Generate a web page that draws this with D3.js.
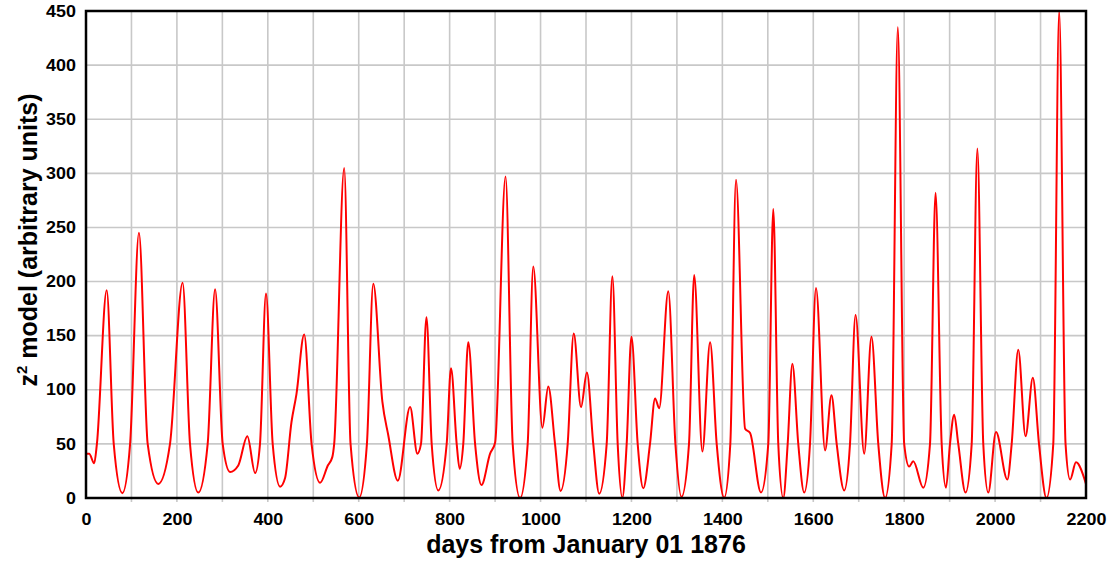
<!DOCTYPE html>
<html>
<head>
<meta charset="utf-8">
<script src="https://cdn.jsdelivr.net/npm/d3@7"></script>
<style>
  html, body { margin: 0; padding: 0; background: #fff; }
  svg { display: block; font-family: "Liberation Sans", Arial, sans-serif; }
</style>
</head>
<body>
<svg id="chart" width="1115" height="563"></svg>
<script>
// Model series: day offsets and z^2 values (turning points, shoulders and flank crossings)
const days = [
  0, 7, 18, 24, 45.5, 61, 80, 97, 116.5, 135.7, 159, 184.8, 212.5, 228.8, 247, 267.7,
  284, 300.7, 317, 335, 355, 372, 382.8, 396, 410.7, 427, 438, 452, 463, 480, 496.5,
  515, 532, 542, 546, 568, 582, 601, 618, 632, 652, 665, 686, 713, 729, 737, 749,
  760.5, 775, 793.5, 803, 815.5, 822, 830, 841, 856, 870, 889, 900, 923, 938.7, 955,
  971.7, 984, 1004, 1017, 1031.8, 1044, 1059.7, 1073, 1089, 1102, 1116, 1129, 1145.5,
  1158, 1169.7, 1180, 1189.5, 1200, 1213.7, 1226, 1240.8, 1252, 1261, 1281, 1296.7,
  1310, 1326.6, 1338, 1356, 1373, 1387.5, 1404, 1417.5, 1430, 1450, 1461, 1485, 1501,
  1512, 1523, 1534, 1543.7, 1554, 1567, 1580, 1592.8, 1606, 1626, 1640, 1651.5, 1668,
  1680.8, 1693, 1712, 1728, 1743, 1758, 1772.5, 1786, 1800, 1811, 1820, 1842, 1856.8,
  1869, 1882.5, 1892, 1900.8, 1910, 1919, 1935, 1948.5, 1961, 1974, 1985, 2002, 2027,
  2036.5, 2051, 2067, 2083, 2096.6, 2113, 2128, 2141, 2155, 2165, 2178, 2200
];
const z2 = [
  41, 41, 32, 50, 192, 50, 4.5, 50, 245, 50, 13, 50, 199, 50, 5, 50,
  193, 50, 24, 30, 57, 23, 50, 189, 50, 10.5, 18.5, 70, 96, 151, 49,
  14, 30, 38, 50, 305, 50, 0.5, 50, 198, 89, 58, 16, 84, 41, 50, 167,
  50, 7, 50, 120, 50, 27, 50, 144, 50, 12, 41, 51, 297, 50, 0,
  50, 214, 65, 103, 50, 6.5, 50, 152, 84, 116, 50, 4, 50,
  205, 50, 0.3, 50, 149, 50, 9, 50, 92, 83, 191, 50,
  1, 50, 206, 43, 144, 50, 0.3, 50, 294, 64, 60, 5, 50,
  267, 50, 0, 50, 124, 50, 5, 50, 194, 44, 95, 50, 7,
  50, 169, 41, 149, 50, 0, 50, 435, 50, 29, 34, 9.5, 50,
  282, 50, 9.5, 50, 77, 50, 5, 50, 323, 50, 5, 61, 17,
  50, 137, 57, 111, 50, 0, 50, 450, 50, 17, 33, 13
];
const xTicks = [0, 200, 400, 600, 800, 1000, 1200, 1400, 1600, 1800, 2000, 2200];
const yTicks = [0, 50, 100, 150, 200, 250, 300, 350, 400, 450];

const svg = d3.select("#chart");
const m = { left: 86, right: 1086, top: 11, bottom: 498 };

const x = d3.scaleLinear().domain([0, 2200]).range([m.left, m.right]);
const y = d3.scaleLinear().domain([0, 450]).range([m.bottom, m.top]);

// Grid: every 100 days, every 50 units
const grid = svg.append("g").attr("stroke", "#c8c8c8").attr("stroke-width", 1.6);
grid.selectAll("line.v").data(d3.range(100, 2200, 100)).join("line")
  .attr("x1", d => x(d)).attr("x2", d => x(d))
  .attr("y1", m.top).attr("y2", m.bottom + 4);
grid.selectAll("line.h").data(d3.range(50, 450, 50)).join("line")
  .attr("x1", m.left).attr("x2", m.right)
  .attr("y1", d => y(d)).attr("y2", d => y(d));

// Curve
const pts = days.map((d, i) => [d, z2[i]]);
const line = d3.line()
  .x(d => x(d[0]))
  .y(d => y(d[1]))
  .curve(d3.curveMonotoneX);

svg.append("defs").append("clipPath").attr("id", "plot")
  .append("rect").attr("x", m.left).attr("y", m.top - 1)
  .attr("width", m.right - m.left).attr("height", m.bottom - m.top + 1);

svg.append("path")
  .datum(pts)
  .attr("clip-path", "url(#plot)")
  .attr("fill", "none")
  .attr("stroke", "#ff0000")
  .attr("stroke-width", 2)
  .attr("stroke-linejoin", "round")
  .attr("d", line);

// Frame
svg.append("rect")
  .attr("x", m.left).attr("y", m.top)
  .attr("width", m.right - m.left).attr("height", m.bottom - m.top)
  .attr("fill", "none").attr("stroke", "#000").attr("stroke-width", 2.5);

// Axes (labels only; frame drawn above)
const xAxis = d3.axisBottom(x).tickValues(xTicks).tickFormat(d3.format("d"))
  .tickSize(0).tickPadding(16);
const gx = svg.append("g").attr("transform", `translate(0,${m.bottom})`).call(xAxis);
const yAxis = d3.axisLeft(y).tickValues(yTicks).tickFormat(d3.format("d"))
  .tickSize(0).tickPadding(9);
const gy = svg.append("g").attr("transform", `translate(${m.left},0)`).call(yAxis);
[gx, gy].forEach(g => {
  g.select(".domain").remove();
  g.selectAll("text")
    .attr("fill", "#000")
    .attr("transform", "scale(1.12,1)")
    .style("font-family", "'Liberation Sans', Arial, sans-serif")
    .style("font-size", "16px")
    .style("font-weight", "bold");
});

// Axis titles
svg.append("text")
  .attr("x", (m.left + m.right) / 2)
  .attr("y", 553)
  .attr("text-anchor", "middle")
  .style("font-size", "25px")
  .style("font-weight", "bold")
  .text("days from January 01 1876");

const yt = svg.append("text")
  .attr("transform", `translate(37,240) rotate(-90)`)
  .attr("text-anchor", "middle")
  .style("font-size", "25px")
  .style("font-weight", "bold");
yt.append("tspan").text("z");
yt.append("tspan").attr("dy", -10).style("font-size", "15px").text("2");
yt.append("tspan").attr("dy", 10).text(" model (arbitrary units)");
</script>
</body>
</html>
